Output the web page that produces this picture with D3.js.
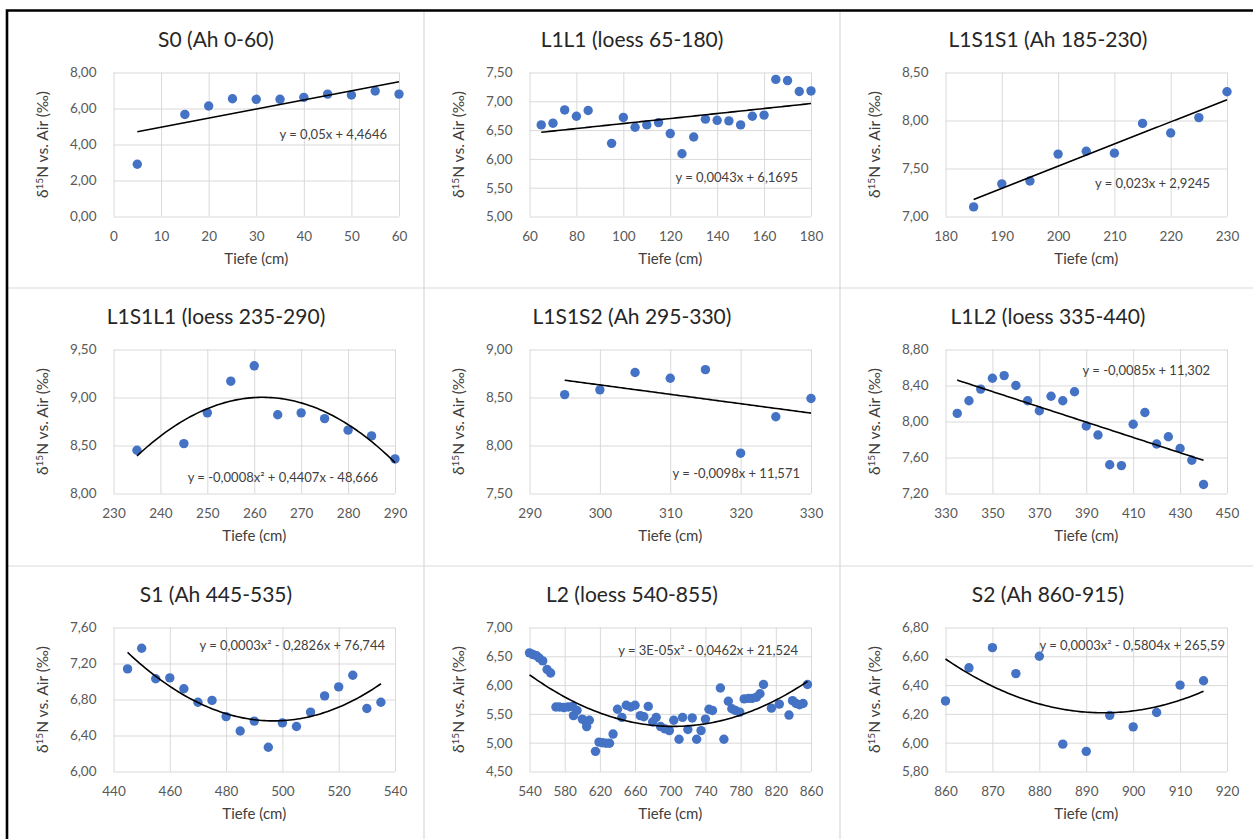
<!DOCTYPE html>
<html>
<head>
<meta charset="utf-8">
<script src="https://cdn.jsdelivr.net/npm/d3@7"></script>
<style>
  body { margin: 0; background: #fff; }
  svg { display: block; }
  text { font-family: Lato, "Open Sans", sans-serif; }
</style>
</head>
<body>
<svg id="chart" width="1253" height="839"></svg>
<script>
// ---- δ15N profile data, one pair of arrays per horizon ----
const s0Depth = [5, 15, 20, 25, 30, 35, 40, 45, 50, 55, 60];
const s0D15N  = [2.90, 5.67, 6.14, 6.54, 6.51, 6.51, 6.62, 6.80, 6.75, 6.97, 6.80];

const l1l1Depth = [65, 70, 75, 80, 85, 95, 100, 105, 110, 115, 120, 125, 130, 135, 140, 145, 150, 155, 160, 165, 170, 175, 180];
const l1l1D15N  = [6.59, 6.62, 6.85, 6.74, 6.84, 6.27, 6.72, 6.55, 6.59, 6.63, 6.44, 6.09, 6.38, 6.69, 6.67, 6.66, 6.59, 6.74, 6.76, 7.38, 7.36, 7.17, 7.18];

const l1s1s1Depth = [185, 190, 195, 200, 205, 210, 215, 220, 225, 230];
const l1s1s1D15N  = [7.10, 7.34, 7.37, 7.65, 7.68, 7.66, 7.97, 7.87, 8.03, 8.30];

const l1s1l1Depth = [235, 245, 250, 255, 260, 265, 270, 275, 280, 285, 290];
const l1s1l1D15N  = [8.45, 8.52, 8.84, 9.17, 9.33, 8.82, 8.84, 8.78, 8.66, 8.60, 8.36];

const l1s1s2Depth = [295, 300, 305, 310, 315, 320, 325, 330];
const l1s1s2D15N  = [8.53, 8.58, 8.76, 8.70, 8.79, 7.92, 8.30, 8.49];

const l1l2Depth = [335, 340, 345, 350, 355, 360, 365, 370, 375, 380, 385, 390, 395, 400, 405, 410, 415, 420, 425, 430, 435, 440];
const l1l2D15N  = [8.09, 8.23, 8.36, 8.48, 8.51, 8.40, 8.23, 8.12, 8.28, 8.23, 8.33, 7.95, 7.85, 7.52, 7.51, 7.97, 8.10, 7.75, 7.83, 7.70, 7.57, 7.30];

const s1Depth = [445, 450, 455, 460, 465, 470, 475, 480, 485, 490, 495, 500, 505, 510, 515, 520, 525, 530, 535];
const s1D15N  = [7.14, 7.37, 7.03, 7.04, 6.92, 6.77, 6.79, 6.61, 6.45, 6.56, 6.27, 6.54, 6.50, 6.66, 6.84, 6.94, 7.07, 6.70, 6.77];

const l2Depth = [540, 544, 548, 551, 555, 560, 564, 570, 574, 579, 584, 589, 590, 594, 600, 604, 605, 608,
                 615, 619, 623, 627, 631, 635, 640, 645, 650, 655, 660, 666, 670, 675, 680, 684, 689, 694,
                 699, 704, 710, 714, 720, 725, 730, 735, 740, 744, 748, 757, 761, 766, 770, 774, 779, 784,
                 789, 793, 798, 802, 806, 815, 824, 835, 839, 843, 847, 851, 856];
const l2D15N  = [6.56, 6.53, 6.51, 6.47, 6.42, 6.27, 6.21, 5.62, 5.62, 5.61, 5.62, 5.63, 5.47, 5.56, 5.41, 5.37, 5.28, 5.39,
                 4.85, 5.01, 5.00, 4.99, 4.99, 5.15, 5.58, 5.44, 5.65, 5.62, 5.65, 5.47, 5.45, 5.63, 5.36, 5.44, 5.28, 5.24,
                 5.21, 5.39, 5.06, 5.44, 5.23, 5.43, 5.06, 5.21, 5.41, 5.58, 5.56, 5.95, 5.06, 5.72, 5.59, 5.56, 5.53, 5.76,
                 5.77, 5.77, 5.79, 5.85, 6.01, 5.60, 5.67, 5.48, 5.73, 5.68, 5.66, 5.68, 6.01];

const s2Depth = [860, 865, 870, 875, 880, 885, 890, 895, 900, 905, 910, 915];
const s2D15N  = [6.29, 6.52, 6.66, 6.48, 6.60, 5.99, 5.94, 6.19, 6.11, 6.21, 6.40, 6.43];

// ---- panel titles, trend labels and axis ticks ----
const panelTitles = [
  "S0 (Ah 0-60)", "L1L1 (loess 65-180)", "L1S1S1 (Ah 185-230)",
  "L1S1L1 (loess 235-290)", "L1S1S2 (Ah 295-330)", "L1L2 (loess 335-440)",
  "S1 (Ah 445-535)", "L2 (loess 540-855)", "S2 (Ah 860-915)"
];
const trendLabels = [
  "y = 0,05x + 4,4646", "y = 0,0043x + 6,1695", "y = 0,023x + 2,9245",
  "y = -0,0008x² + 0,4407x - 48,666", "y = -0,0098x + 11,571", "y = -0,0085x + 11,302",
  "y = 0,0003x² - 0,2826x + 76,744", "y = 3E-05x² - 0,0462x + 21,524", "y = 0,0003x² - 0,5804x + 265,59"
];
const trendOrders = [1, 1, 1, 2, 1, 1, 2, 2, 2];

const xTickValues = [
  [0, 10, 20, 30, 40, 50, 60],
  [60, 80, 100, 120, 140, 160, 180],
  [180, 190, 200, 210, 220, 230],
  [230, 240, 250, 260, 270, 280, 290],
  [290, 300, 310, 320, 330],
  [330, 350, 370, 390, 410, 430, 450],
  [440, 460, 480, 500, 520, 540],
  [540, 580, 620, 660, 700, 740, 780, 820, 860],
  [860, 870, 880, 890, 900, 910, 920]
];
const yTickValues = [
  [0, 2, 4, 6, 8],
  [5, 5.5, 6, 6.5, 7, 7.5],
  [7, 7.5, 8, 8.5],
  [8, 8.5, 9, 9.5],
  [7.5, 8, 8.5, 9],
  [7.2, 7.6, 8, 8.4, 8.8],
  [6, 6.4, 6.8, 7.2, 7.6],
  [4.5, 5, 5.5, 6, 6.5, 7],
  [5.8, 6, 6.2, 6.4, 6.6, 6.8]
];

const depthSeries = [s0Depth, l1l1Depth, l1s1s1Depth, l1s1l1Depth, l1s1s2Depth, l1l2Depth, s1Depth, l2Depth, s2Depth];
const valueSeries = [s0D15N, l1l1D15N, l1s1s1D15N, l1s1l1D15N, l1s1s2D15N, l1l2D15N, s1D15N, l2D15N, s2D15N];

// ---- layout ----
const W = 1253, H = 839;
const colLeft = [8, 424, 840];
const rowTop = [11, 288, 566];
const plotOffsetX = 105.5, plotOffsetY = 61.5, plotH = 144;
const plotWidths = [285.5, 281.5, 281.5, 281.5, 281.5, 281.5, 281.5, 281.5, 281.5];
// trend label anchor (right end, baseline) relative to plot origin
const labelPos = [[273.5, 66], [268.5, 109], [264.5, 115], [264.5, 132.5], [270.5, 128.5],
                  [264.5, 25.5], [271.5, 22.5], [268.5, 27.5], [279.5, 22.5]];

const BLUE = "#4472c4";
const GRID = "#d9d9d9";
const commaFmt = d => d3.format(".2f")(d).replace(".", ",");

// Least squares polynomial fit (order 1 or 2), x centred for stability
function polyFit(xs, ys, order) {
  const mx = d3.mean(xs);
  const n = order + 1;
  const A = Array.from({length: n}, () => new Array(n).fill(0));
  const b = new Array(n).fill(0);
  xs.forEach((x, i) => {
    const t = x - mx;
    const pw = Array.from({length: n}, (_, k) => Math.pow(t, k));
    for (let r = 0; r < n; r++) {
      b[r] += pw[r] * ys[i];
      for (let c = 0; c < n; c++) A[r][c] += pw[r] * pw[c];
    }
  });
  // Gaussian elimination
  for (let i = 0; i < n; i++) {
    let p = i;
    for (let r = i + 1; r < n; r++) if (Math.abs(A[r][i]) > Math.abs(A[p][i])) p = r;
    [A[i], A[p]] = [A[p], A[i]]; [b[i], b[p]] = [b[p], b[i]];
    for (let r = i + 1; r < n; r++) {
      const f = A[r][i] / A[i][i];
      for (let c = i; c < n; c++) A[r][c] -= f * A[i][c];
      b[r] -= f * b[i];
    }
  }
  const coef = new Array(n).fill(0);
  for (let i = n - 1; i >= 0; i--) {
    let s = b[i];
    for (let c = i + 1; c < n; c++) s -= A[i][c] * coef[c];
    coef[i] = s / A[i][i];
  }
  return x => coef.reduce((acc, c, k) => acc + c * Math.pow(x - mx, k), 0);
}

const svg = d3.select("#chart");
svg.append("rect").attr("width", W).attr("height", H).attr("fill", "#fff");

// panel separators
[424, 840].forEach(x => svg.append("line").attr("x1", x).attr("x2", x).attr("y1", 11).attr("y2", H)
  .attr("stroke", GRID).attr("stroke-width", 1.2));
[288, 566].forEach(y => svg.append("line").attr("x1", 8).attr("x2", W).attr("y1", y).attr("y2", y)
  .attr("stroke", GRID).attr("stroke-width", 1.2));

// outer frame (top and left)
svg.append("path").attr("d", `M7,${H} V10.5 H${W}`)
  .attr("fill", "none").attr("stroke", "#000").attr("stroke-width", 2.6);

panelTitles.forEach((title, i) => {
  const col = i % 3, row = Math.floor(i / 3);
  const px = colLeft[col], py = rowTop[row];
  const left = px + plotOffsetX, top = py + plotOffsetY;
  const w = plotWidths[i], h = plotH;
  const xt = xTickValues[i], yt = yTickValues[i];

  const x = d3.scaleLinear().domain([xt[0], xt[xt.length - 1]]).range([0, w]);
  const y = d3.scaleLinear().domain([yt[0], yt[yt.length - 1]]).range([h, 0]);

  const g = svg.append("g").attr("transform", `translate(${left},${top})`);

  // title
  svg.append("text")
    .attr("x", px + 208).attr("y", py + 36)
    .attr("text-anchor", "middle")
    .attr("font-size", 21).attr("fill", "#262626")
    .text(title);

  // axes with gridlines
  const xAxis = g.append("g").attr("transform", `translate(0,${h})`)
    .call(d3.axisBottom(x).tickValues(xt).tickSize(-h).tickPadding(14.5).tickFormat(d3.format("d")));
  const yAxis = g.append("g")
    .call(d3.axisLeft(y).tickValues(yt).tickSize(-w).tickPadding(17).tickFormat(commaFmt));
  [xAxis, yAxis].forEach(a => {
    a.select(".domain").remove();
    a.selectAll(".tick line").attr("stroke", GRID).attr("stroke-width", 1);
    a.selectAll(".tick text").attr("fill", "#595959").attr("font-size", 13.5)
      .style("font-family", "Lato, 'Open Sans', sans-serif");
  });

  // axis titles
  svg.append("text")
    .attr("x", left + w / 2).attr("y", top + h + 47.5)
    .attr("text-anchor", "middle").attr("font-size", 15).attr("fill", "#404040")
    .text("Tiefe (cm)");
  const yt2 = svg.append("text")
    .attr("transform", `translate(${left - 65.5},${top + h / 2}) rotate(-90)`)
    .attr("text-anchor", "middle").attr("font-size", 15.5).attr("fill", "#404040");
  yt2.append("tspan").text("δ");
  yt2.append("tspan").attr("font-size", 10).attr("dy", -5.5).text("15");
  yt2.append("tspan").attr("dy", 5.5).text("N vs. Air (‰)");

  // points
  const xs = depthSeries[i], ys = valueSeries[i];
  g.selectAll("circle").data(xs.map((d, k) => [d, ys[k]])).enter().append("circle")
    .attr("cx", d => x(d[0])).attr("cy", d => y(d[1]))
    .attr("r", 4.7).attr("fill", BLUE);

  // trendline
  const f = polyFit(xs, ys, trendOrders[i]);
  const [x0, x1] = d3.extent(xs);
  const pts = d3.range(0, 101).map(k => x0 + (x1 - x0) * k / 100);
  g.append("path")
    .datum(pts)
    .attr("d", d3.line().x(d => x(d)).y(d => y(f(d))))
    .attr("fill", "none").attr("stroke", "#000").attr("stroke-width", 1.6);

  // trend equation
  g.append("text")
    .attr("x", labelPos[i][0]).attr("y", labelPos[i][1])
    .attr("text-anchor", "end").attr("font-size", 13).attr("fill", "#404040")
    .text(trendLabels[i]);
});
</script>
</body>
</html>
